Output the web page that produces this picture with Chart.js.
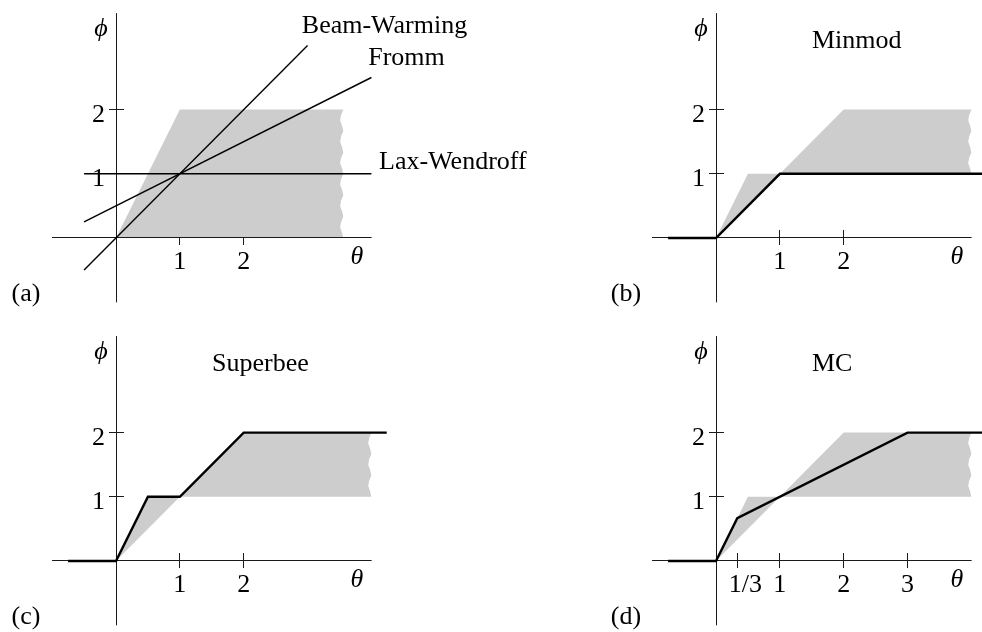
<!DOCTYPE html>
<html>
<head>
<meta charset="utf-8">
<title>Flux limiters</title>
<script src="https://cdn.jsdelivr.net/npm/chart.js@4.4.1/dist/chart.umd.min.js"></script>
<style>
  html, body { margin: 0; padding: 0; background: #fff; width: 982px; height: 632px; overflow: hidden; }
  .panel { position: absolute; }
  canvas { display: block; }
</style>
</head>
<body>
<div class="panel" style="left:0;top:0"><canvas id="panelA" width="600" height="323"></canvas></div>
<div class="panel" style="left:600px;top:0"><canvas id="panelB" width="382" height="323"></canvas></div>
<div class="panel" style="left:0;top:323px"><canvas id="panelC" width="600" height="309"></canvas></div>
<div class="panel" style="left:600px;top:323px"><canvas id="panelD" width="382" height="309"></canvas></div>
<script>
// ---------------- data ----------------
const thetaTicks = [1, 2];
const thetaTickLabels = ['1', '2'];
const thetaTicksMC = [1 / 3, 1, 2, 3];
const thetaTickLabelsMC = ['1/3', '1', '2', '3'];
const phiTicks = [1, 2];
const phiTickLabels = ['1', '2'];

// (a) linear second-order methods written as limiter functions
const laxWendroffTheta = [-0.5, 4.0];
const laxWendroffPhi = [1, 1];
const beamWarmingTheta = [-0.5, 3.0];
const beamWarmingPhi = [-0.5, 3.0];
const frommTheta = [-0.5, 4.0];
const frommPhi = [0.25, 2.5];

// (a) TVD region 0 <= phi <= min(2 theta, 2), ending in a torn edge
const tvdTheta = [0, 1,
  3.56, 3.525, 3.51, 3.54, 3.56, 3.525, 3.51, 3.54, 3.56, 3.525, 3.51, 3.54,
  3.56, 3.525, 3.51, 3.54, 3.56, 3.525, 3.51, 3.54, 3.56, 3.525, 3.51, 3.54, 3.56,
  0];
const tvdPhi = [0, 2,
  2, 1.917, 1.833, 1.75, 1.667, 1.583, 1.5, 1.417, 1.333, 1.25, 1.167, 1.083,
  1, 0.917, 0.833, 0.75, 0.667, 0.583, 0.5, 0.417, 0.333, 0.25, 0.167, 0.083, 0,
  0];

// (b)-(d) second-order TVD region
const tvd2Theta = [0, 0.5, 1, 2,
  4.0, 3.965, 3.95, 3.98, 4.0, 3.965, 3.95, 3.98, 4.0, 3.965, 3.95, 3.98, 4.0,
  1, 0];
const tvd2Phi = [0, 1, 1, 2,
  2, 1.917, 1.833, 1.75, 1.667, 1.583, 1.5, 1.417, 1.333, 1.25, 1.167, 1.083, 1,
  1, 0];

// limiters
const minmodTheta = [-0.75, 0, 1, 4.2];
const minmodPhi = [0, 0, 1, 1];
const superbeeTheta = [-0.75, 0, 0.5, 1, 2, 4.24];
const superbeePhi = [0, 0, 1, 1, 2, 2];
const mcTheta = [-0.75, 0, 1 / 3, 3, 4.2];
const mcPhi = [0, 0, 2 / 3, 2, 2];

// ---------------- layout ----------------
const ORIGIN = { x: 116, y: 238 };
const UNIT = { x: 63.85, y: 64.2 };
const X_MIN = -1, Y_MIN = -1, Y_MAX = 3.5;
const AXIS_THETA_END = 4.0;
const FONT = '"Liberation Serif", "DejaVu Serif", serif';
const TEXT_PX = 26;
const AXIS_COLOR = '#1a1a1a';
const TICK_HALF = 7.5;
const SHADE = '#cdcdcd';

function pts(xs, ys) { return xs.map((v, i) => ({ x: v, y: ys[i] })); }

function axisLines(chart) {
  const { ctx, scales: { x, y } } = chart;
  const x0 = Math.floor(x.getPixelForValue(0)) + 0.5;
  const y0 = Math.floor(y.getPixelForValue(0)) + 0.5;
  ctx.save();
  ctx.strokeStyle = AXIS_COLOR;
  ctx.lineWidth = 1;
  ctx.beginPath();
  ctx.moveTo(x.getPixelForValue(X_MIN), y0);
  ctx.lineTo(x.getPixelForValue(AXIS_THETA_END), y0);
  ctx.moveTo(x0, y.getPixelForValue(Y_MAX));
  ctx.lineTo(x0, y.getPixelForValue(Y_MIN));
  ctx.stroke();
  ctx.restore();
}

const framePlugin = {
  id: 'limiterFrame',
  beforeDatasetsDraw(chart, args, o) {
    const { ctx, scales: { x, y } } = chart;
    const x0 = Math.floor(x.getPixelForValue(0)) + 0.5;
    const y0 = Math.floor(y.getPixelForValue(0)) + 0.5;
    ctx.save();
    ctx.strokeStyle = AXIS_COLOR;
    ctx.lineWidth = 1;
    ctx.beginPath();
    o.xTicks.forEach(v => {
      const px = Math.floor(x.getPixelForValue(v)) + 0.5;
      ctx.moveTo(px, y0 - TICK_HALF); ctx.lineTo(px, y0 + TICK_HALF);
    });
    o.yTicks.forEach(v => {
      const py = Math.floor(y.getPixelForValue(v)) + 0.5;
      ctx.moveTo(x0 - TICK_HALF, py); ctx.lineTo(x0 + TICK_HALF, py);
    });
    ctx.stroke();
    ctx.restore();
    axisLines(chart);
  },
  afterDatasetDraw(chart, args) {
    // the shaded region sits under the axis lines
    if (args.meta._dataset && args.meta._dataset.isRegion) axisLines(chart);
  },
  afterDraw(chart, args, o) {
    const { ctx, scales: { x, y } } = chart;
    const x0 = x.getPixelForValue(0);
    const y0 = y.getPixelForValue(0);
    ctx.save();
    ctx.fillStyle = '#000';
    ctx.font = TEXT_PX + 'px ' + FONT;
    ctx.textBaseline = 'alphabetic';
    // tick labels
    ctx.textAlign = 'center';
    o.xTicks.forEach((v, i) => {
      ctx.fillText(o.xTickLabels[i], x.getPixelForValue(v) + (o.xLabelShift ? o.xLabelShift[i] : 0), y0 + 31);
    });
    ctx.textAlign = 'right';
    o.yTicks.forEach((v, i) => {
      ctx.fillText(o.yTickLabels[i], x0 - 11, y.getPixelForValue(v) + 12);
    });
    // panel letter
    ctx.textAlign = 'center';
    ctx.fillText(o.letter, x0 - 90, y0 + 63);
    // title
    if (o.title) {
      ctx.textAlign = 'left';
      ctx.fillText(o.title, x0 + 96, y0 - 190);
    }
    // curve names
    ctx.textAlign = 'left';
    (o.notes || []).forEach(n => {
      ctx.fillText(n.text, x.getPixelForValue(n.theta), y.getPixelForValue(n.phi));
    });
    // axis names
    ctx.font = 'italic ' + TEXT_PX + 'px ' + FONT;
    ctx.textAlign = 'center';
    ctx.textBaseline = 'middle';
    ctx.fillText('\u03D5', x0 - 15, 29);
    ctx.fillText('\u03B8', x0 + 241, y0 + 19);
    ctx.restore();
  }
};

function region(xs, ys) {
  return {
    data: pts(xs, ys), isRegion: true, showLine: true, fill: 'shape',
    backgroundColor: SHADE, borderWidth: 0, borderColor: 'rgba(0,0,0,0)',
    pointRadius: 0, order: 10, clip: false
  };
}
function curve(xs, ys, w) {
  return {
    data: pts(xs, ys), showLine: true, fill: false, borderColor: '#000',
    borderWidth: w, pointRadius: 0, order: 1, clip: false,
    borderJoinStyle: 'miter', borderCapStyle: 'butt'
  };
}

function makePanel(id, xMax, datasets, frame) {
  const cv = document.getElementById(id);
  const W = cv.width, H = cv.height;
  return new Chart(cv, {
    type: 'scatter',
    data: { datasets },
    options: {
      responsive: false, animation: false, events: [],
      layout: {
        padding: {
          left: ORIGIN.x + X_MIN * UNIT.x,
          right: W - (ORIGIN.x + xMax * UNIT.x),
          top: ORIGIN.y - Y_MAX * UNIT.y,
          bottom: H - (ORIGIN.y - Y_MIN * UNIT.y)
        }
      },
      scales: {
        x: { type: 'linear', display: false, min: X_MIN, max: xMax },
        y: { type: 'linear', display: false, min: Y_MIN, max: Y_MAX }
      },
      plugins: {
        legend: { display: false },
        tooltip: { enabled: false },
        limiterFrame: frame
      }
    },
    plugins: [framePlugin]
  });
}

makePanel('panelA', 5, [
  region(tvdTheta, tvdPhi),
  curve(laxWendroffTheta, laxWendroffPhi, 1.4),
  curve(beamWarmingTheta, beamWarmingPhi, 1.4),
  curve(frommTheta, frommPhi, 1.4)
], {
  xTicks: thetaTicks, xTickLabels: thetaTickLabels,
  yTicks: phiTicks, yTickLabels: phiTickLabels,
  letter: '(a)',
  notes: [
    { text: 'Beam-Warming', theta: 2.91, phi: 3.2 },
    { text: 'Fromm', theta: 3.95, phi: 2.69 },
    { text: 'Lax-Wendroff', theta: 4.12, phi: 1.07 }
  ]
});

makePanel('panelB', 4.1, [
  region(tvd2Theta, tvd2Phi),
  curve(minmodTheta, minmodPhi, 2.4)
], {
  xTicks: thetaTicks, xTickLabels: thetaTickLabels,
  yTicks: phiTicks, yTickLabels: phiTickLabels,
  letter: '(b)', title: 'Minmod'
});

makePanel('panelC', 5, [
  region(tvd2Theta, tvd2Phi),
  curve(superbeeTheta, superbeePhi, 2.4)
], {
  xTicks: thetaTicks, xTickLabels: thetaTickLabels,
  yTicks: phiTicks, yTickLabels: phiTickLabels,
  letter: '(c)', title: 'Superbee'
});

makePanel('panelD', 4.1, [
  region(tvd2Theta, tvd2Phi),
  curve(mcTheta, mcPhi, 2.4)
], {
  xTicks: thetaTicksMC, xTickLabels: thetaTickLabelsMC, xLabelShift: [8, 0, 0, 0],
  yTicks: phiTicks, yTickLabels: phiTickLabels,
  letter: '(d)', title: 'MC'
});
</script>
</body>
</html>
